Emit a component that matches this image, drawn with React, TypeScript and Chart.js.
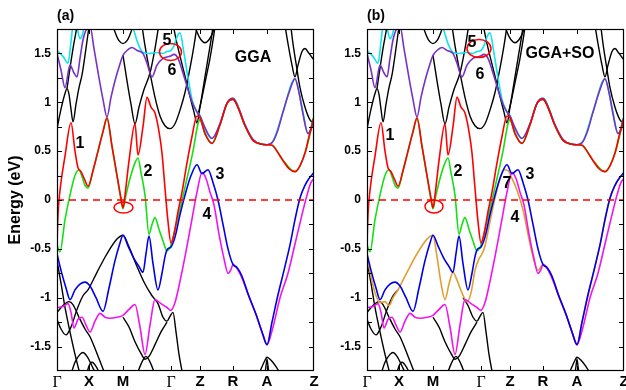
import React, { useEffect, useRef } from 'react';
import { Chart, registerables } from 'chart.js';

Chart.register(...registerables);

// ---------------- data (k along path, energy in eV) ----------------
const kTicks = [0, 32, 66, 114, 143, 176, 210, 257];
const kLabels = ['Γ', 'X', 'M', 'Γ', 'Z', 'R', 'A', 'Z'];
const energyLabelValues = [-1.5, -1, -0.5, 0, 0.5, 1, 1.5];
const fermiLevel = [[0, 0], [257, 0]];

const band1Red = [[0,-0.45],[1,-0.15],[3,0.1],[8,0.45],[14,0.79],[18,0.5],[21,0.33],[24,0.29],[28,0.2],[31,0.14],[36,0.3],[41,0.5],[46,0.7],[50,0.84],[55,0.55],[60,0.25],[64,0.02],[66,-0.08],[68,0.05],[72,0.4],[78,0.78],[81,0.46],[86,0.75],[90,1.05],[94,0.95],[98,0.89],[102,0.7],[105,0.48],[108,0.12],[111,-0.22],[114,-0.44],[117,-0.35],[121,-0.12],[125,0.08],[130,0.38],[135,0.65],[140,0.86],[143,0.84],[148,0.68],[155,0.58],[163,0.77],[170,0.99],[176,1.03],[182,0.92],[188,0.76],[196,0.61],[205,0.57],[210,0.565],[215,0.56],[220,0.5],[225,0.42],[232,0.32],[238,0.29],[243,0.35],[248,0.48],[252,0.65],[257,0.85]];

const band2Green = [[0,-0.46],[3,-0.53],[8,-0.2],[13,0.05],[18,0.25],[22,0.31],[25,0.24],[28,0.15],[31,0.12],[36,0.3],[41,0.5],[46,0.7],[50,0.83],[55,0.55],[60,0.25],[64,0.0],[66,-0.09],[69,0.05],[73,0.22],[78,0.38],[81,0.43],[84,0.28],[88,0.05],[92,-0.35],[95,-0.25],[98,-0.18],[102,-0.3],[106,-0.42],[110,-0.52],[114,-0.46],[118,-0.3],[124,-0.05],[130,0.22],[136,0.5],[141,0.78],[143,0.82],[148,0.68],[155,0.58],[163,0.77],[170,0.99],[176,1.03],[188,0.76],[196,0.61],[205,0.57],[210,0.565],[215,0.56],[225,0.42],[238,0.29],[248,0.48],[257,0.85]];

const band3Blue = [[0,-0.55],[4,-0.72],[9,-0.9],[13,-1.02],[18,-0.92],[23,-0.86],[28,-0.84],[33,-0.88],[39,-1.0],[46,-1.14],[52,-0.9],[58,-0.62],[63,-0.44],[66,-0.36],[71,-0.47],[77,-0.6],[82,-0.68],[86,-0.74],[89,-0.55],[92,-0.37],[96,-0.65],[101,-0.92],[105,-0.75],[108,-0.58],[110,-0.51],[114,-0.48],[118,-0.38],[123,-0.15],[128,0.05],[134,0.25],[140,0.36],[145,0.27],[151,0.31],[156,0.18],[161,0.0],[166,-0.25],[171,-0.5],[176,-0.66],[180,-0.69],[185,-0.78],[191,-0.96],[199,-1.17],[205,-1.35],[210,-1.48],[215,-1.25],[221,-0.97],[227,-0.72],[233,-0.46],[238,-0.2],[243,0.02],[248,0.15],[252,0.22],[257,0.28]];

const band4Magenta = [[0,-1.1],[6,-1.09],[11,-1.06],[14,-1.15],[17,-1.31],[21,-1.22],[25,-1.2],[29,-1.28],[33,-1.35],[38,-1.24],[43,-1.16],[48,-1.2],[53,-1.21],[60,-1.2],[66,-1.18],[72,-1.12],[78,-1.07],[83,-1.3],[88,-1.58],[93,-1.28],[98,-1.02],[104,-1.06],[110,-1.1],[114,-1.13],[118,-1.05],[122,-0.88],[128,-0.58],[134,-0.25],[140,0.08],[145,0.28],[149,0.22],[153,0.08],[157,-0.05],[162,-0.35],[167,-0.6],[171,-0.75],[174,-0.71],[176,-0.66],[180,-0.7],[185,-0.8],[192,-0.99],[200,-1.2],[206,-1.38],[210,-1.48],[216,-1.3],[223,-1.0],[231,-0.75],[238,-0.45],[245,-0.15],[250,0.05],[254,0.18],[257,0.22]];

const band5Cyan = [[0,1.53],[6,1.47],[11,1.4],[14,1.62],[16,1.8],[18,1.9],[21,1.72],[23,1.65],[25,1.68],[28,1.8],[32,1.95],[45,2.1],[58,2.0],[66,1.9],[72,1.82],[76,1.76],[81,1.6],[86,1.51],[92,1.5],[100,1.51],[106,1.5],[110,1.52],[114,1.53],[117,1.58],[120,1.67],[123,1.71],[127,1.5],[131,1.25],[135,1.03],[139,0.92],[143,0.86],[148,0.72],[155,0.63],[163,0.78],[170,0.99],[176,1.04],[188,0.77],[196,0.62],[205,0.57],[210,0.565],[216,0.6],[226,0.9],[238,1.24],[245,0.95],[251,0.68],[257,0.85]];

const band6Purple = [[0,1.5],[4,1.33],[8,1.15],[13,1.38],[17,1.3],[20,1.26],[23,1.45],[26,1.64],[29,1.74],[33,1.78],[37,1.55],[42,1.25],[46,1.03],[50,0.85],[54,1.05],[58,1.22],[62,1.36],[66,1.48],[70,1.53],[75,1.56],[80,1.53],[86,1.5],[90,1.4],[95,1.26],[100,1.38],[106,1.45],[113,1.47],[117,1.49],[121,1.45],[126,1.3],[131,1.13],[136,0.98],[140,0.9],[143,0.86],[148,0.74],[155,0.63],[163,0.78],[170,0.99],[176,1.04],[182,0.93],[188,0.77],[196,0.62],[205,0.57],[210,0.565],[216,0.6],[221,0.72],[226,0.9],[232,1.1],[238,1.24],[242,1.1],[246,0.88],[251,0.68],[254,0.72],[257,0.85]];

const band7Orange = [[0,-0.58],[4,-0.78],[8,-0.95],[13,-1.05],[18,-1.04],[22,-1.08],[26,-1.0],[31,-0.92],[40,-0.74],[50,-0.55],[60,-0.4],[66,-0.36],[70,-0.58],[74,-0.85],[78,-1.02],[82,-0.86],[86,-0.74],[90,-0.82],[95,-0.95],[100,-1.04],[104,-0.95],[108,-0.72],[112,-0.6],[114,-0.57],[118,-0.47],[123,-0.22],[128,0.02],[133,0.22],[137,0.31],[141,0.3],[145,0.22],[150,0.1],[156,-0.1],[162,-0.4],[167,-0.62],[171,-0.72],[176,-0.66],[180,-0.69],[185,-0.78],[191,-0.96],[199,-1.17],[205,-1.35],[210,-1.48],[215,-1.25],[221,-0.97],[227,-0.72],[233,-0.46],[238,-0.2],[243,0.02],[248,0.15],[252,0.22],[257,0.28]];

// other (black) bands, upper part
const blackUp1 = [[0,0.73],[4,0.93],[8,1.09],[10,1.14],[12,1.08],[14,0.93],[16,0.8],[19,0.98],[22,1.15],[25,1.28],[28,1.48],[31,1.7],[33,1.85]];
const blackUp2 = [[10,1.14],[13,1.35],[16,1.55],[19,1.72],[21,1.85]];
const blackUp3 = [[54,1.85],[58,1.72],[62,1.63],[66,1.6],[70,1.63],[74,1.72],[78,1.85]];
const blackUp4 = [[66,1.48],[70,1.22],[74,0.98],[78,0.78],[82,0.95],[87,1.13],[93,1.3],[98,1.55],[102,1.8],[103,1.85]];
const blackUp5 = [[84,1.85],[88,1.58],[93,1.3],[98,1.05],[103,0.86],[108,0.76],[113,0.73],[118,0.78],[123,0.92],[128,1.1],[133,1.35],[137,1.58],[141,1.85]];
const blackUp6 = [[115,1.85],[120,1.6],[126,1.35],[132,1.1],[137,0.9],[140,0.79],[143,0.95],[147,1.2],[151,1.45],[155,1.7],[157,1.85]];
const blackUp7 = [[141,0.87],[145,1.05],[149,1.25],[153,1.45],[157,1.7],[159,1.85]];
const blackUp8 = [[136,1.85],[140,1.72],[144,1.64],[148,1.61],[152,1.64],[156,1.72],[160,1.85]];
const blackUp9 = [[233,1.85],[236,1.6],[239,1.4],[243,1.15],[248,0.95],[253,0.82],[257,0.78]];
const blackUp10 = [[227,1.85],[231,1.6],[235,1.38],[238,1.26],[241,1.38],[245,1.52],[248,1.55],[252,1.5],[257,1.43]];

// other (black) bands, lower part
const blackLow1 = [[0,-1.22],[4,-1.32],[9,-1.38],[14,-1.3],[20,-1.12],[26,-0.98],[31,-0.92],[40,-0.74],[50,-0.55],[60,-0.4],[66,-0.36],[72,-0.48],[80,-0.68],[88,-0.86],[95,-0.98],[101,-1.06],[106,-1.2],[110,-1.24],[113,-1.19],[116,-1.15],[119,-1.35],[122,-1.58],[125,-1.75],[127,-1.85]];
const blackLow1SoLeft = [[0,-1.22],[4,-1.32],[9,-1.38],[14,-1.3],[20,-1.12],[26,-0.98],[31,-0.92]];
const blackLow1SoRight = [[96,-1.0],[101,-1.08],[106,-1.2],[110,-1.24],[113,-1.19],[116,-1.15],[119,-1.35],[122,-1.58],[125,-1.75],[127,-1.85]];
const blackLow2 = [[0,-1.15],[6,-1.08],[12,-1.04],[16,-1.07],[22,-1.2],[28,-1.32],[33,-1.4],[38,-1.52],[43,-1.65],[48,-1.78],[51,-1.85]];
const blackLow3 = [[0,-0.62],[4,-0.85],[8,-1.1],[13,-1.35],[18,-1.58],[23,-1.78],[25,-1.85]];
const blackLow4 = [[12,-1.85],[18,-1.66],[23,-1.58],[26,-1.56],[30,-1.6],[36,-1.72],[42,-1.85]];
const blackLow5 = [[28,-1.85],[32,-1.7],[35,-1.66],[40,-1.72],[46,-1.85]];
const blackLow6 = [[66,-1.2],[72,-1.3],[78,-1.45],[84,-1.57],[88,-1.63],[92,-1.6],[98,-1.48],[104,-1.35],[110,-1.25]];
const blackLow7 = [[78,-1.85],[84,-1.68],[89,-1.6],[94,-1.68],[100,-1.85]];
const blackA1 = [[199,-1.85],[204,-1.73],[208,-1.64],[210,-1.61],[214,-1.64],[220,-1.72],[226,-1.82],[228,-1.85]];
const blackA2 = [[207,-1.85],[209,-1.7],[210,-1.63],[211,-1.7],[213,-1.85]];

// ---------------- styling / layout ----------------
const C = {
  red: '#ff0000', green: '#14e014', blue: '#0000e8', magenta: '#f014f0',
  cyan: '#10e4ee', purple: '#7632c4', orange: '#e0a030', black: '#000000',
};

const SANS = '"Liberation Sans", Arial, Helvetica, sans-serif';
const SERIF = '"Liberation Serif", "Times New Roman", serif';

const toXY = (arr: number[][]) => arr.map(([x, y]) => ({ x, y }));

function ds(arr: number[][], color: string, order: number, extra: any = {}) {
  return {
    data: toXY(arr),
    borderColor: color,
    borderWidth: 1.6,
    pointRadius: 0,
    fill: false,
    cubicInterpolationMode: 'monotone',
    order,
    clip: 0,
    ...extra,
  };
}

const blacksUpper = [blackUp1, blackUp2, blackUp3, blackUp4, blackUp5, blackUp6, blackUp7, blackUp8, blackUp9, blackUp10];
const blacksLowerCommon = [blackLow2, blackLow3, blackLow4, blackLow5, blackLow6, blackLow7, blackA1, blackA2];

function datasetsFor(so: boolean) {
  const list: any[] = [];
  const blacks = [...blacksUpper, ...blacksLowerCommon, ...(so ? [blackLow1SoLeft, blackLow1SoRight] : [blackLow1])];
  blacks.forEach((b) => list.push(ds(b, C.black, 10, { borderWidth: 1.4 })));
  if (so) list.push(ds(band7Orange, C.orange, 7));
  list.push(ds(band5Cyan, C.cyan, 6));
  list.push(ds(band4Magenta, C.magenta, 5));
  list.push(ds(band2Green, C.green, 4));
  list.push(ds(band3Blue, C.blue, 3));
  list.push(ds(band6Purple, C.purple, 2));
  list.push(ds(band1Red, C.red, 1));
  list.push(ds(fermiLevel, C.red, 0, { borderDash: [7, 5], borderWidth: 1.4, cubicInterpolationMode: 'default', tension: 0 }));
  return list;
}

const panelA = {
  so: false, left: 0, width: 330, yAxisWidth: 57, padRight: 16,
  title: '(a)', yTitle: true,
  texts: [
    { t: 'GGA', k: 196, e: 1.46 },
    { t: '1', k: 23, e: 0.58 }, { t: '2', k: 91, e: 0.29 }, { t: '3', k: 163, e: 0.26 },
    { t: '4', k: 150, e: -0.15 }, { t: '5', k: 110, e: 1.63 }, { t: '6', k: 115, e: 1.32 },
  ],
  ellipses: [{ k: 113.5, e: 1.515, rx: 11, ry: 8.5 }, { k: 66.5, e: -0.077, rx: 9.5, ry: 5.5 }],
};

const panelB = {
  so: true, left: 318, width: 308, yAxisWidth: 49, padRight: 2,
  title: '(b)', yTitle: false,
  texts: [
    { t: 'GGA+SO', k: 193, e: 1.5 },
    { t: '1', k: 23, e: 0.66 }, { t: '2', k: 91, e: 0.29 }, { t: '3', k: 163, e: 0.26 },
    { t: '7', k: 140, e: 0.17 }, { t: '4', k: 148, e: -0.18 }, { t: '5', k: 105, e: 1.61 },
    { t: '6', k: 113, e: 1.28 },
  ],
  ellipses: [{ k: 112, e: 1.55, rx: 12, ry: 9 }, { k: 67, e: -0.066, rx: 9, ry: 6.5 }],
};

const decorPlugin = {
  id: 'decor',
  afterDatasetsDraw(chart: any, _args: any, o: any) {
    const { ctx, chartArea: a } = chart;
    const xs = chart.scales.x;
    const ys = chart.scales.y;
    ctx.save();
    // ellipses
    ctx.strokeStyle = '#ff0000';
    ctx.lineWidth = 1.5;
    (o.ellipses || []).forEach((el: any) => {
      ctx.beginPath();
      ctx.ellipse(xs.getPixelForValue(el.k), ys.getPixelForValue(el.e), el.rx, el.ry, 0, 0, Math.PI * 2);
      ctx.stroke();
    });
    // frame
    ctx.strokeStyle = '#000';
    ctx.lineWidth = 1.2;
    const L = Math.round(a.left), T = Math.round(a.top), R = Math.round(a.right), B = Math.round(a.bottom);
    ctx.strokeRect(L + 0.5, T + 0.5, R - L - 1, B - T - 1);
    // inward ticks
    ctx.lineWidth = 1;
    ctx.beginPath();
    for (let v = -1.5; v <= 1.5001; v += 0.25) {
      const y = Math.round(ys.getPixelForValue(v)) + 0.5;
      ctx.moveTo(L, y); ctx.lineTo(L + 5, y);
      ctx.moveTo(R, y); ctx.lineTo(R - 5, y);
    }
    kTicks.forEach((k, i) => {
      if (i === 0 || i === kTicks.length - 1) return;
      const x = Math.round(xs.getPixelForValue(k)) + 0.5;
      ctx.moveTo(x, B); ctx.lineTo(x, B - 5);
      ctx.moveTo(x, T); ctx.lineTo(x, T + 5);
    });
    ctx.stroke();
    // texts
    ctx.fillStyle = '#000';
    ctx.textAlign = 'center';
    ctx.textBaseline = 'middle';
    ctx.font = `bold 16px ${SANS}`;
    (o.texts || []).forEach((t: any) => {
      ctx.fillText(t.t, xs.getPixelForValue(t.k), ys.getPixelForValue(t.e));
    });
    // panel title
    ctx.textAlign = 'left';
    ctx.font = `bold 14px ${SANS}`;
    ctx.fillText(o.title, L, T - 13);
    // y title
    if (o.yTitle) {
      ctx.save();
      ctx.translate(16, (T + B) / 2);
      ctx.rotate(-Math.PI / 2);
      ctx.textAlign = 'center';
      ctx.font = `bold 16px ${SANS}`;
      ctx.fillText('Energy (eV)', 0, 0);
      ctx.restore();
    }
    ctx.restore();
  },
};

function makeConfig(p: any) {
  return {
    type: 'line',
    data: { datasets: datasetsFor(p.so) },
    options: {
      animation: false,
      responsive: false,
      devicePixelRatio: 1,
      events: [],
      layout: { padding: { left: 0, right: p.padRight, top: 29, bottom: 0 } },
      plugins: {
        legend: { display: false },
        tooltip: { enabled: false },
        decor: { title: p.title, yTitle: p.yTitle, texts: p.texts, ellipses: p.ellipses },
      },
      scales: {
        x: {
          type: 'linear',
          min: 0,
          max: 257,
          grid: { display: false, drawTicks: false, tickLength: 0 },
          border: { display: false },
          afterBuildTicks: (scale: any) => { scale.ticks = kTicks.map((v) => ({ value: v })); },
          afterFit: (scale: any) => { scale.height = 19; scale.paddingLeft = 0; scale.paddingRight = 0; },
          ticks: {
            autoSkip: false,
            maxRotation: 0,
            padding: 2,
            color: '#000',
            callback: (v: number) => { const i = kTicks.indexOf(v); return i >= 0 ? kLabels[i] : ''; },
            font: (c: any) => (kLabels[c.index] === 'Γ'
              ? { family: SERIF, size: 16, weight: 'normal' }
              : { family: SANS, size: 15, weight: 'bold' }),
          },
        },
        y: {
          type: 'linear',
          min: -1.75,
          max: 1.75,
          grid: { display: false, drawTicks: false, tickLength: 0 },
          border: { display: false },
          afterBuildTicks: (scale: any) => { scale.ticks = energyLabelValues.map((v) => ({ value: v })); },
          afterFit: (scale: any) => { scale.width = p.yAxisWidth; scale.paddingTop = 0; scale.paddingBottom = 0; },
          ticks: {
            autoSkip: false,
            padding: 6,
            color: '#000',
            font: { family: SANS, size: 12, weight: 'bold' },
            callback: (v: number) => String(v),
          },
        },
      },
    },
    plugins: [decorPlugin],
  };
}

function Panel({ p }: { p: any }) {
  const ref = useRef<HTMLCanvasElement>(null);
  useEffect(() => {
    if (!ref.current) return;
    const chart = new Chart(ref.current, makeConfig(p) as any);
    return () => chart.destroy();
  }, [p]);
  return (
    <canvas
      ref={ref}
      width={p.width}
      height={390}
      style={{ position: 'absolute', left: p.left, top: 0, width: p.width, height: 390, display: 'block' }}
    />
  );
}

export default function App() {
  return (
    <div style={{ position: 'fixed', left: 0, top: 0, width: 626, height: 390, background: '#fff', overflow: 'hidden' }}>
      <Panel p={panelA} />
      <Panel p={panelB} />
    </div>
  );
}
